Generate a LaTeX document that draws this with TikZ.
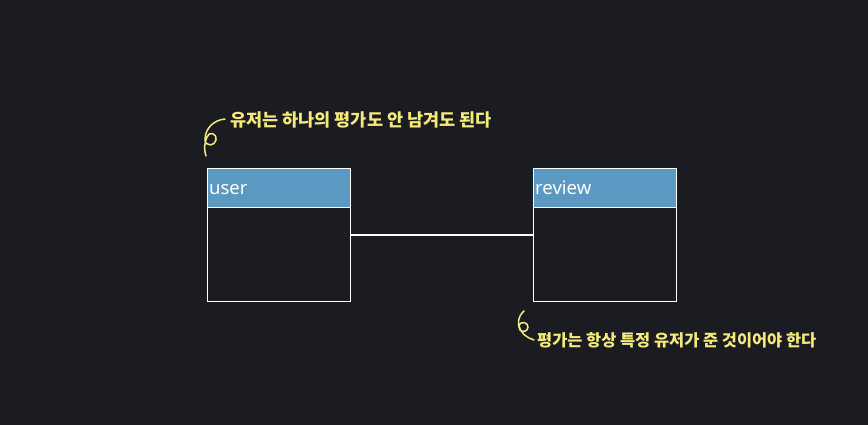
\documentclass[tikz,border=0pt]{standalone}
\usepackage{fontspec}
\setmainfont{Noto Sans}
\newfontfamily\krfont{Noto Sans CJK KR}
\definecolor{bg}{HTML}{1B1C21}
\definecolor{hdr}{HTML}{5B99C3}
\definecolor{note}{HTML}{F5E97A}
\begin{document}
\begin{tikzpicture}[x=1pt,y=-1pt,
  box/.style={draw=white,line width=1.2pt},
  hbox/.style={draw=white,line width=1.2pt,fill=hdr},
  title/.style={anchor=base west,text=white,font=\fontsize{18.5}{18.5}\selectfont,inner sep=0pt},
  notetext/.style={anchor=west,text=note,inner sep=0pt},
  curl/.style={draw=note,line width=1.5pt,line cap=round}]
\fill[bg] (0,0) rectangle (868,425);
\useasboundingbox (0,0) rectangle (868,425);
% user
\node[box,minimum width=143,minimum height=133,inner sep=0pt,anchor=north west] (user) at (207,168) {};
\node[hbox,minimum width=143,minimum height=39,inner sep=0pt,anchor=north west] (userh) at (207,168) {};
\node[title] (usert) at (209,194) {user};
% review
\node[box,minimum width=143,minimum height=133,inner sep=0pt,anchor=north west] (review) at (533,168) {};
\node[hbox,minimum width=143,minimum height=39,inner sep=0pt,anchor=north west] (reviewh) at (533,168) {};
\node[title] (reviewt) at (535,194) {review};
% connector
\draw[white,line width=1.2pt] (user.east |- 0,235) -- (review.west |- 0,235);
% notes
\node[notetext,font=\krfont\bfseries\fontsize{17.5}{18}\selectfont] (n1) at (230,120) {유저는 하나의 평가도 안 남겨도 된다};
\node[notetext,font=\krfont\bfseries\fontsize{16.4}{17}\selectfont] (n2) at (537,340) {평가는 항상 특정 유저가 준 것이어야 한다};
\draw[curl] (225,119) .. controls (214,120) and (205,128) .. (205,140)
  .. controls (206,147) and (215,146) .. (216,140)
  .. controls (217,133) and (209,131) .. (207,137)
  .. controls (204,144) and (204,150) .. (206,156);
\draw[curl] (524,311) .. controls (518,316) and (517,325) .. (520,330)
  .. controls (523,333) and (528,331) .. (528,327)
  .. controls (528,322) and (521,321) .. (519,325)
  .. controls (520,333) and (527,338) .. (534,340);
\end{tikzpicture}
\end{document}
